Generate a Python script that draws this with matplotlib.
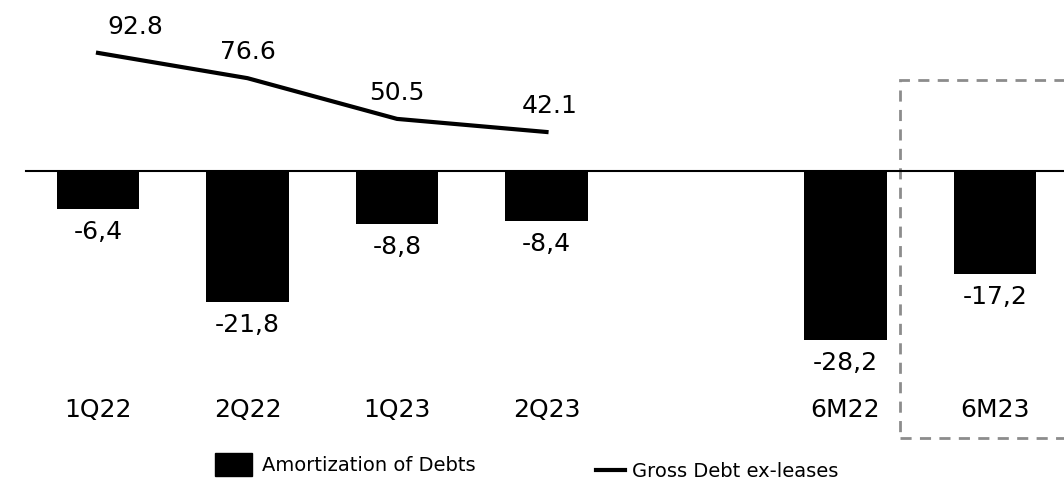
import numpy as np
import matplotlib
matplotlib.use("Agg")
import matplotlib.pyplot as plt
from matplotlib.patches import Rectangle, Patch
from matplotlib.lines import Line2D

plt.rcParams['font.family'] = ['DejaVu Sans']

# amortization bars (R$ mn) and gross debt line
categories = ['1Q22', '2Q22', '1Q23', '2Q23', '6M22', '6M23']
positions = [0, 1, 2, 3, 5, 6]
amortization = [-6.4, -21.8, -8.8, -8.4, -28.2, -17.2]
amort_labels = ['-6,4', '-21,8', '-8,8', '-8,4', '-28,2', '-17,2']
gross_debt = [92.8, 76.6, 50.5, 42.1]
debt_labels = ['92.8', '76.6', '50.5', '42.1']

fig = plt.figure(figsize=(10.64, 4.79), dpi=100)
ax = fig.add_axes([0, 0, 1, 1])
ax.set_xlim(-0.6555, 6.4615)
ax.set_ylim(-51.33, 28.5)
ax.axis('off')

ax.bar(positions, amortization, width=0.555, color='black', zorder=2)
ax.plot([-0.48, 6.5], [0, 0], color='black', lw=1.5, zorder=3)

for x, v, lab in zip(positions, amortization, amort_labels):
    ax.text(x, v - 3.8, lab, ha='center', va='center', fontsize=18)

for x, lab in zip(positions, categories):
    ax.text(x, -39.8, lab, ha='center', va='center', fontsize=18)

# line on its own scale
ax2 = ax.twinx()
ax2.set_ylim(-180.3, 126.7)
ax2.axis('off')
ax2.plot(positions[:4], gross_debt, color='black', lw=3, solid_capstyle='projecting')
offsets = [(0.25, 16.5), (0.0, 16.5), (0.0, 16.5), (0.02, 16.5)]
for x, v, lab, (dx, dy) in zip(positions[:4], gross_debt, debt_labels, offsets):
    ax2.text(x + dx, v + dy, lab, ha='center', va='center', fontsize=18)

# highlight box around 6M23
ax.add_patch(Rectangle((5.365, -44.5), 1.3, 59.7, fill=False, ec='#8c8c8c',
                       lw=2, ls=(0, (4, 3)), clip_on=False, zorder=1))

leg1 = fig.legend(handles=[Patch(color='black', label='Amortization of Debts')],
                  loc='center left', bbox_to_anchor=(0.202, 0.030), frameon=False,
                  fontsize=14, handlelength=1.9, handleheight=1.45, handletextpad=0.5,
                  borderpad=0, borderaxespad=0)
leg2 = fig.legend(handles=[Line2D([], [], color='black', lw=3, label='Gross Debt ex-leases')],
                  loc='center left', bbox_to_anchor=(0.560, 0.016), frameon=False,
                  fontsize=14, handlelength=1.5, handletextpad=0.36,
                  borderpad=0, borderaxespad=0)

fig.savefig('out.png', dpi=100)
